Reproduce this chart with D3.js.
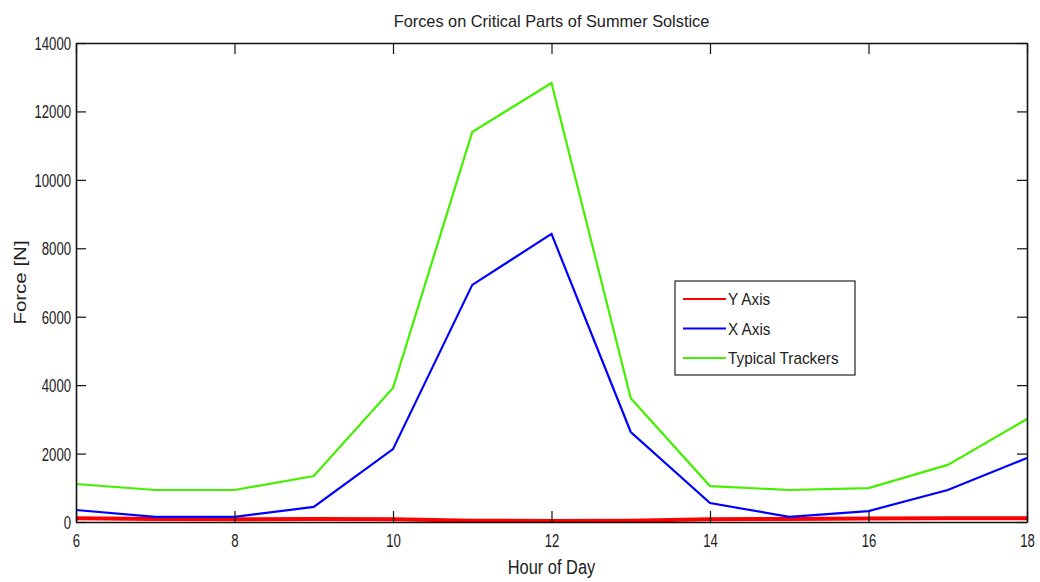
<!DOCTYPE html>
<html>
<head>
<meta charset="utf-8">
<script src="https://cdn.jsdelivr.net/npm/d3@7"></script>
<style>
  body { margin: 0; background: #fff; }
  text { font-family: "Liberation Sans", Arial, sans-serif; fill: #222; }
</style>
</head>
<body>
<div id="chart"></div>
<script>
// data
var hours = [6, 7, 8, 9, 10, 11, 12, 13, 14, 15, 16, 17, 18];
var yAxisForce = [110, 90, 80, 90, 80, 40, 30, 40, 80, 90, 100, 110, 110];
var xAxisForce = [350, 150, 150, 440, 2130, 6930, 8420, 2630, 555, 150, 320, 935, 1870];
var typicalForce = [1110, 935, 935, 1345, 3916, 11400, 12830, 3620, 1050, 935, 990, 1670, 3010];
var xTicks = [6, 8, 10, 12, 14, 16, 18];
var yTicks = [0, 2000, 4000, 6000, 8000, 10000, 12000, 14000];

var series = [
  { name: "Y Axis", values: yAxisForce, color: "#ff0000", width: 4 },
  { name: "X Axis", values: xAxisForce, color: "#0000ff", width: 2.2 },
  { name: "Typical Trackers", values: typicalForce, color: "#44f000", width: 2.2 }
];

window.onload = () => {
  var W = 1040, H = 582;
  var margin = { top: 43, right: 13, bottom: 60, left: 76 },
    width = W - margin.left - margin.right,
    height = H - margin.top - margin.bottom;

  var x = d3.scaleLinear().domain([6, 18]).range([0, width]);
  var y = d3.scaleLinear().domain([0, 14000]).range([height, 0]);

  var svg = d3.select("#chart").append("svg")
    .attr("width", W)
    .attr("height", H);

  var g = svg.append("g")
    .attr("transform", "translate(" + margin.left + "," + margin.top + ")");

  // squeeze (or stretch) text horizontally like the original
  function squeeze(sel, f) {
    sel.each(function() {
      var w = this.getComputedTextLength();
      d3.select(this).attr("textLength", w * f).attr("lengthAdjust", "spacingAndGlyphs");
    });
  }

  var line = d3.line()
    .x((d, i) => x(hours[i]))
    .y(d => y(d));

  g.selectAll(".series")
    .data(series)
    .enter().append("path")
    .attr("class", "series")
    .attr("fill", "none")
    .attr("stroke", d => d.color)
    .attr("stroke-width", d => d.width)
    .attr("d", d => line(d.values));

  // axes, MATLAB style ticks pointing inward
  var bottom = g.append("g")
    .attr("transform", "translate(0," + height + ")")
    .call(d3.axisBottom(x).tickValues(xTicks).tickSizeInner(-11).tickSizeOuter(0).tickPadding(8));
  var top = g.append("g")
    .call(d3.axisTop(x).tickValues(xTicks).tickSizeInner(-11).tickSizeOuter(0).tickFormat(() => ""));
  var left = g.append("g")
    .call(d3.axisLeft(y).tickValues(yTicks).tickFormat(d3.format("d")).tickSizeInner(-10).tickSizeOuter(0).tickPadding(5));
  var right = g.append("g")
    .attr("transform", "translate(" + width + ",0)")
    .call(d3.axisRight(y).tickValues(yTicks).tickSizeInner(-10).tickSizeOuter(0).tickFormat(() => ""));

  [bottom, top, left, right].forEach(a => {
    a.select(".domain").attr("stroke", "#111").attr("stroke-width", 1.6);
    a.selectAll(".tick line").attr("stroke", "#111").attr("stroke-width", 1.2);
    a.selectAll("text").attr("font-family", null).attr("fill", "#222").style("font-size", "18px");
  });
  bottom.selectAll("text").attr("dy", "0.95em");
  left.selectAll("text").attr("dy", "0.36em");
  squeeze(bottom.selectAll("text"), 0.73);
  squeeze(left.selectAll("text"), 0.73);

  // title and axis labels
  var title = svg.append("text")
    .attr("x", margin.left + width / 2)
    .attr("y", 27)
    .attr("text-anchor", "middle")
    .style("font-size", "17px")
    .text("Forces on Critical Parts of Summer Solstice");
  squeeze(title, 0.96);

  var xl = svg.append("text")
    .attr("x", margin.left + width / 2)
    .attr("y", 574)
    .attr("text-anchor", "middle")
    .style("font-size", "20px")
    .text("Hour of Day");
  squeeze(xl, 0.82);

  var yl = svg.append("text")
    .attr("transform", "translate(26," + (margin.top + height / 2) + ") rotate(-90)")
    .attr("text-anchor", "middle")
    .style("font-size", "16px")
    .text("Force [N]");
  squeeze(yl, 1.28);

  // legend
  var legend = svg.append("g").attr("transform", "translate(675,281)");
  legend.append("rect")
    .attr("width", 180).attr("height", 94)
    .attr("fill", "#fff").attr("stroke", "#222").attr("stroke-width", 1.2);
  var items = legend.selectAll(".item")
    .data(series)
    .enter().append("g")
    .attr("transform", (d, i) => "translate(0," + (18 + i * 29.5) + ")");
  items.append("line")
    .attr("x1", 8).attr("x2", 51)
    .attr("stroke", d => d.color).attr("stroke-width", 2.2);
  items.append("text")
    .attr("x", 53).attr("dy", "0.36em")
    .style("font-size", "17px")
    .text(d => d.name);
  squeeze(items.selectAll("text"), 0.9);
};
</script>
</body>
</html>
